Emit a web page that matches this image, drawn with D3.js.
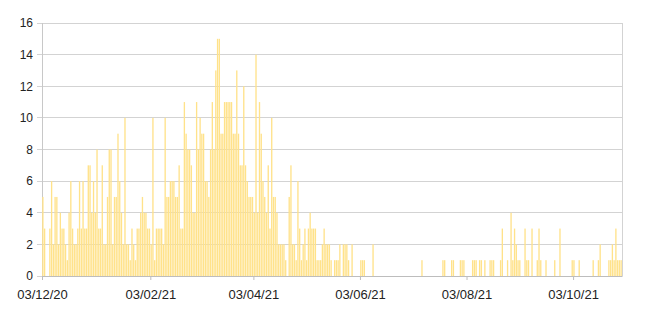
<!DOCTYPE html>
<html>
<head>
<meta charset="utf-8">
<script src="https://cdn.jsdelivr.net/npm/d3@7"></script>
<style>
  body { margin: 0; background: #fff; }
  text { font-family: "Liberation Sans", Arial, sans-serif; }
</style>
</head>
<body>
<div id="plot"></div>
<script>
// daily counts, first day 03/12/20
var startDate = "2020-12-03";
var counts = [
    5,3,0,0,3,6,2,5,5,2,
    4,3,3,2,1,4,6,3,2,2,
    3,6,3,6,3,3,7,7,4,6,
    4,8,3,3,7,2,2,5,8,8,
    2,5,5,9,6,4,2,10,2,2,
    1,3,2,1,3,3,4,5,4,4,
    3,3,2,10,1,3,3,3,3,2,
    10,5,5,6,6,6,5,5,7,3,
    3,11,9,8,8,7,4,4,11,8,
    10,9,9,6,6,5,8,11,8,13,
    15,15,9,9,11,11,11,11,11,9,
    9,13,9,7,7,12,7,6,5,5,
    5,4,14,4,11,9,6,5,4,7,
    3,10,5,5,4,2,2,2,2,1,
    0,5,7,2,2,1,6,3,1,2,
    3,1,3,4,3,3,3,1,1,1,
    2,3,2,2,2,1,0,1,1,1,
    2,0,2,2,2,1,0,2,0,0,
    0,0,1,1,1,0,0,0,0,2,
    0,0,0,0,0,0,0,0,0,0,
    0,0,0,0,0,0,0,0,0,0,
    0,0,0,0,0,0,0,1,0,0,
    0,0,0,0,0,0,0,0,0,1,
    1,0,0,0,1,1,0,0,0,1,
    1,1,0,0,0,0,1,1,1,0,
    1,1,0,1,0,0,1,1,1,0,
    0,0,1,3,0,0,1,0,4,1,
    3,2,1,1,0,0,3,1,1,0,
    3,0,0,1,3,1,0,0,1,0,
    0,0,0,1,0,0,3,0,0,0,
    0,0,0,1,1,0,0,1,0,0,
    0,0,0,0,0,1,0,0,1,2,
    0,0,0,0,1,1,2,1,3,1,
    1,1
];
var xTickDates = ["2020-12-03", "2021-02-03", "2021-04-03", "2021-06-03", "2021-08-03", "2021-10-03"];
var yTicks = [0, 2, 4, 6, 8, 10, 12, 14, 16];

var margin = {top: 23, right: 28, bottom: 41, left: 42},
    width = 650 - margin.left - margin.right,
    height = 317 - margin.top - margin.bottom;

var parse = d3.timeParse("%Y-%m-%d");
var fmt = d3.timeFormat("%d/%m/%y");
var start = parse(startDate);

var data = counts.map(function(v, i) {
    return {date: d3.timeDay.offset(start, i), value: v};
});

var svg = d3.select("#plot")
  .append("svg")
    .attr("width", width + margin.left + margin.right)
    .attr("height", height + margin.top + margin.bottom)
  .append("g")
    .attr("transform", "translate(" + margin.left + "," + margin.top + ")");

var x = d3.scaleTime()
    .domain([start, d3.timeDay.offset(start, counts.length)])
    .range([0, width]);

var y = d3.scaleLinear()
    .domain([0, 16])
    .range([height, 0]);

var step = x(d3.timeDay.offset(start, 1)) - x(start);

// grid
svg.append("g")
  .selectAll("line")
  .data(yTicks)
  .enter()
  .append("line")
    .attr("x1", -5)
    .attr("x2", width)
    .attr("y1", function(d) { return y(d); })
    .attr("y2", function(d) { return y(d); })
    .attr("stroke", "#d3d3d3")
    .attr("stroke-width", 1)
    .attr("shape-rendering", "crispEdges");

// left and right border
svg.append("line")
    .attr("x1", 0).attr("x2", 0)
    .attr("y1", y(16)).attr("y2", height + 4)
    .attr("stroke", "#c8c8c8")
    .attr("shape-rendering", "crispEdges");
svg.append("line")
    .attr("x1", width).attr("x2", width)
    .attr("y1", y(16)).attr("y2", height)
    .attr("stroke", "#d3d3d3")
    .attr("shape-rendering", "crispEdges");

// bars
svg.append("g")
  .selectAll("rect")
  .data(data.filter(function(d) { return d.value > 0; }))
  .enter()
  .append("rect")
    .attr("x", function(d) { return x(d.date) + step * 0.12; })
    .attr("y", function(d) { return y(d.value); })
    .attr("width", step * 0.76)
    .attr("height", function(d) { return height - y(d.value); })
    .attr("fill", "#ffe28a");

// y labels
var yAxis = svg.append("g")
    .call(d3.axisLeft(y).tickValues(yTicks).tickSize(0).tickPadding(9));
yAxis.select(".domain").remove();
yAxis.selectAll("text")
    .style("font-size", "12px")
    .attr("fill", "#222");

// x axis
var xAxis = svg.append("g")
    .attr("transform", "translate(0," + height + ")")
    .call(d3.axisBottom(x)
        .tickValues(xTickDates.map(parse))
        .tickFormat(fmt)
        .tickSize(4)
        .tickSizeOuter(0)
        .tickPadding(10));
xAxis.select(".domain")
    .attr("stroke", "#bdbdbd");
xAxis.selectAll(".tick line")
    .attr("stroke", "#bdbdbd");
xAxis.selectAll("text")
    .style("font-size", "13px")
    .attr("fill", "#222");
</script>
</body>
</html>
